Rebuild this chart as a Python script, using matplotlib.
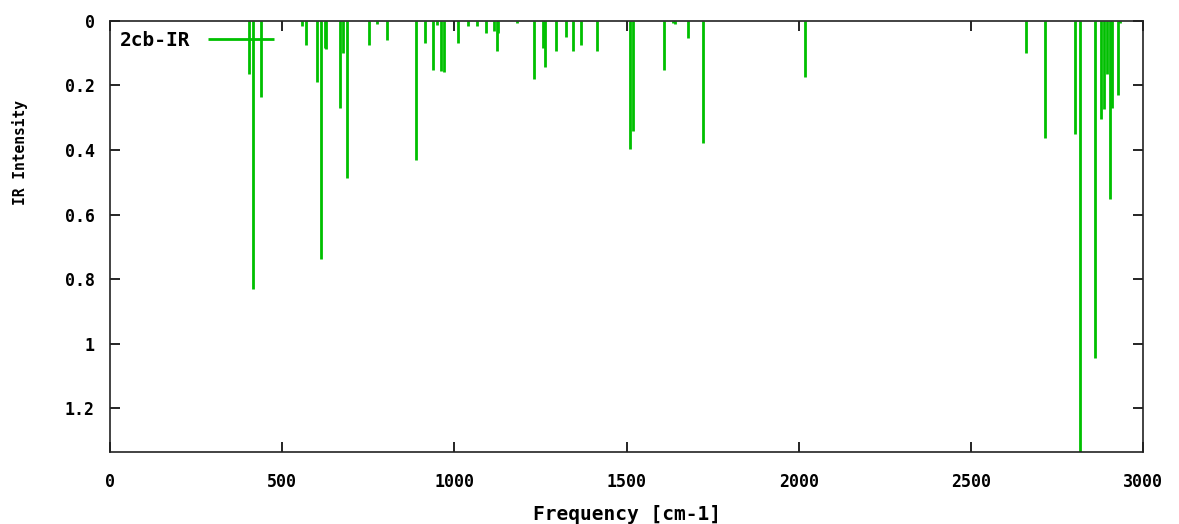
import matplotlib
matplotlib.use("Agg")
import matplotlib.pyplot as plt

freq = [403, 416, 438, 558, 568, 602, 612, 624, 628, 668, 677, 688,
        751, 776, 805, 888, 914, 937, 951, 960, 969, 1011, 1039, 1067,
        1093, 1115, 1123, 1128, 1181, 1230, 1257, 1263, 1295, 1324, 1344,
        1367, 1413, 1510, 1519, 1610, 1635, 1642, 1678, 1721, 2018, 2659,
        2714, 2803, 2818, 2860, 2877, 2886, 2894, 2905, 2910, 2926, 2933]
intensity = [0.165, 0.83, 0.235, 0.015, 0.075, 0.19, 0.737, 0.085, 0.088,
             0.27, 0.10, 0.486, 0.075, 0.01, 0.058, 0.43, 0.068, 0.152,
             0.012, 0.155, 0.158, 0.068, 0.015, 0.016, 0.038, 0.03, 0.092,
             0.038, 0.006, 0.18, 0.085, 0.143, 0.092, 0.05, 0.092, 0.074,
             0.092, 0.398, 0.341, 0.152, 0.006, 0.01, 0.053, 0.379, 0.175,
             0.098, 0.362, 0.349, 1.336, 1.046, 0.304, 0.274, 0.165, 0.553,
             0.27, 0.228, 0.006]

xticks = [0, 500, 1000, 1500, 2000, 2500, 3000]
yticks = [0, 0.2, 0.4, 0.6, 0.8, 1.0, 1.2]
ytick_labels = ["0", "0.2", "0.4", "0.6", "0.8", "1", "1.2"]

FONT = "DejaVu Sans Mono"
fig = plt.figure(figsize=(11.79, 5.24), dpi=100)
ax = fig.add_axes([0.0933, 0.1374, 0.8762, 0.8226])

ax.vlines(freq, 0, intensity, colors="#00c000", linewidth=2.0, label="2cb-IR")

ax.set_xlim(0, 3000)
ax.set_ylim(1.336, 0)
ax.set_xticks(xticks)
ax.set_xticklabels([str(t) for t in xticks], fontfamily=FONT, fontweight="bold", fontsize=12)
ax.set_yticks(yticks)
ax.set_yticklabels(ytick_labels, fontfamily=FONT, fontweight="bold", fontsize=12)
ax.tick_params(axis="x", direction="in", length=7, width=1.2, top=True, pad=15, colors="black")
ax.tick_params(axis="y", direction="in", length=7, width=1.2, right=True, pad=11, colors="black")
for s in ax.spines.values():
    s.set_linewidth(1.2)
    s.set_color("#222222")

ax.set_xlabel("Frequency [cm-1]", fontfamily=FONT, fontweight="bold", fontsize=14, va="center")
ax.xaxis.set_label_coords(0.5, -0.144)
ax.set_ylabel("IR Intensity", fontfamily=FONT, fontweight="bold", fontsize=10.5, va="center")
ax.yaxis.set_label_coords(-0.087, 0.694)

leg = ax.legend(loc="upper left", frameon=False, markerfirst=False, handlelength=3.4,
                prop={"family": FONT, "weight": "bold", "size": 14},
                borderaxespad=0.2, borderpad=0.3, handletextpad=0.9)

fig.savefig("out.png", dpi=100)
